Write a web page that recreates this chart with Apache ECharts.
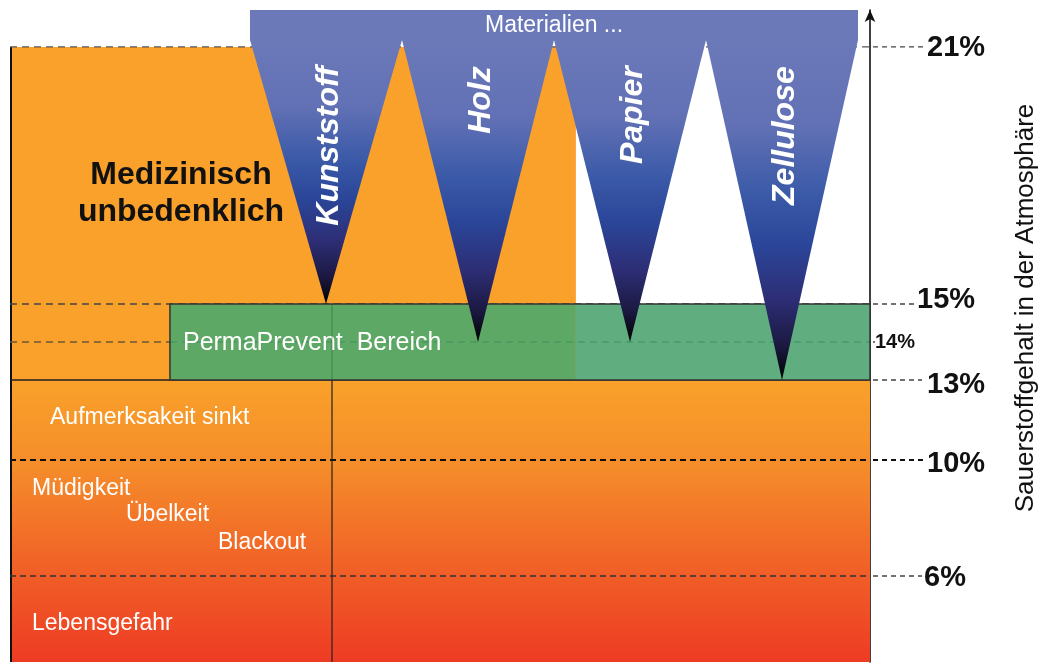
<!DOCTYPE html>
<html>
<head>
<meta charset="utf-8">
<script src="https://cdn.jsdelivr.net/npm/echarts@6.0.0/dist/echarts.min.js"></script>
<style>
html,body{margin:0;padding:0;background:#ffffff;}
#main{width:1043px;height:664px;}
</style>
</head>
<body>
<div id="main"></div>
<script>
// ---------------- data ----------------
const materials = ['Kunststoff', 'Holz', 'Papier', 'Zellulose'];
const materialLimits = [15, 14, 14, 13];          // O2 % at which the material stops burning
const ambientLevel = 21;                           // normal atmosphere
const tickValues = [21, 15, 14, 13, 10, 6];
const tickLabels = ['21%', '15%', '14%', '13%', '10%', '6%'];
const zoneFrom = [3, 13];
const zoneTo = [13, 21];
const permaRange = [13, 15];
const permaLevel = 14;
const permaLabel = 'PermaPrevent  Bereich';
const safeText = 'Medizinisch\nunbedenklich';
const symptomTexts = ['Aufmerksakeit sinkt', 'Müdigkeit', 'Übelkeit', 'Blackout', 'Lebensgefahr'];
const headerText = 'Materialien ...';
const axisTitle = 'Sauerstoffgehalt in der Atmosphäre';

// schematic (non-linear) vertical scale of the drawing: % O2 -> axis units
const scalePct  = [3, 6, 10, 13, 15, 21, 21.86];
const scaleUnit = [0, 13.19, 30.98, 43.25, 54.91, 94.33, 100];
function toUnit(p) {
  for (let i = 0; i < scalePct.length - 1; i++) {
    if (p <= scalePct[i + 1] || i === scalePct.length - 2) {
      const t = (p - scalePct[i]) / (scalePct[i + 1] - scalePct[i]);
      return scaleUnit[i] + t * (scaleUnit[i + 1] - scaleUnit[i]);
    }
  }
}
function Y(api, p) { return api.coord([0, toUnit(p)])[1]; }

// ---------------- layout / style ----------------
const FONT = 'Liberation Sans';
const layout = { safeRight: 0.658, bandLeft: 0.186 };
const safeLayout = { dx: 171, pct: 17.58 };
const symptomLayout = [
  { dx: 40, pct: 11.57 }, { dx: 22, pct: 9.0 }, { dx: 116, pct: 8.1 },
  { dx: 208, pct: 7.14 }, { dx: 22, pct: 4.33 }
];
const levelStyles = [
  { color: '#555', width: 1.3, dash: [7, 5], ext: 55, extColor: '#444', extWidth: 1.3 },
  { color: '#444', width: 1.3, dash: [7, 5], ext: 46, extColor: '#444', extWidth: 1.3 },
  { color: '#6b5a3a', width: 1.3, dash: [7, 5], ext: 5, extColor: '#444', extWidth: 1.3 },
  { color: '#222', width: 1.5, dash: null, ext: 52, extColor: '#444', extWidth: 1.3 },
  { color: '#111', width: 2.2, dash: [6, 4], ext: 56, extColor: '#111', extWidth: 2.2 },
  { color: '#333', width: 1.5, dash: [6, 4], ext: 52, extColor: '#444', extWidth: 1.3 }
];
const labelStyles = [
  { pad: 57, size: 29, dy: 1 },
  { pad: 47, size: 29, dy: -4 },
  { pad: 5, size: 20, dy: 0 },
  { pad: 57, size: 29, dy: 5 },
  { pad: 57, size: 29, dy: 4 },
  { pad: 54, size: 29, dy: 2 }
];
const rich = {};
labelStyles.forEach((s, i) => {
  rich['l' + i] = {
    fontSize: s.size, fontWeight: 'bold', color: '#111', fontFamily: FONT,
    padding: [s.dy > 0 ? s.dy * 2 : 0, 0, s.dy < 0 ? -s.dy * 2 : 0, s.pad]
  };
});

const dangerGradient = () => new echarts.graphic.LinearGradient(0, 0, 0, 1, [
  { offset: 0, color: '#f9a12a' },
  { offset: 0.3, color: '#f58d2a' },
  { offset: 0.7, color: '#f05d27' },
  { offset: 1, color: '#ee3b24' }
]);
const coneGradient = () => new echarts.graphic.LinearGradient(0, 0, 0, 1, [
  { offset: 0, color: '#6b79b9' },
  { offset: 0.25, color: '#6271b5' },
  { offset: 0.45, color: '#3b5aa8' },
  { offset: 0.6, color: '#2b4699' },
  { offset: 0.76, color: '#2d2e76' },
  { offset: 0.9, color: '#1b1840' },
  { offset: 1, color: '#000000' }
]);

const chart = echarts.init(document.getElementById('main'));

const option = {
  animation: false,
  backgroundColor: '#ffffff',
  grid: [
    { left: 10, right: 173, top: 10, bottom: 2, containLabel: false, outerBoundsMode: 'none' },
    { left: 250, right: 185, top: 10, bottom: 2, containLabel: false, outerBoundsMode: 'none' }
  ],
  xAxis: [
    { type: 'value', gridIndex: 0, min: 0, max: 1, show: false },
    { type: 'category', gridIndex: 1, data: materials, show: false, boundaryGap: true }
  ],
  yAxis: [
    {
      type: 'value', gridIndex: 0, position: 'right', min: 0, max: 100,
      axisLine: { show: true, onZero: false, lineStyle: { color: '#111', width: 1.6 }, symbol: ['none', 'arrow'], symbolSize: [8, 12] },
      axisTick: { show: false },
      splitLine: { show: false },
      axisLabel: {
        show: true, margin: 0,
        customValues: tickValues.map(toUnit),
        formatter: function (v) {
          for (let i = 0; i < tickValues.length; i++) {
            if (Math.abs(toUnit(tickValues[i]) - v) < 1e-6) return '{l' + i + '|' + tickLabels[i] + '}';
          }
          return '';
        },
        rich: rich
      },
      name: axisTitle,
      nameLocation: 'middle',
      nameRotate: 90,
      nameGap: 143,
      nameTextStyle: { fontSize: 26, fontFamily: FONT, color: '#111', padding: [0, 0, 0, 56] }
    },
    { type: 'value', gridIndex: 1, min: 0, max: 100, show: false }
  ],
  series: [
    // background zones
    {
      type: 'custom', xAxisIndex: 0, yAxisIndex: 0, z: 1, silent: true,
      data: zoneFrom.map((f, i) => [f, zoneTo[i]]),
      renderItem: function (params, api) {
        const cs = params.coordSys;
        const i = params.dataIndex;
        const yTop = Y(api, api.value(1));
        const yBot = i === 0 ? cs.y + cs.height : Y(api, api.value(0));
        const right = i === 0 ? cs.x + cs.width : cs.x + cs.width * layout.safeRight;
        return {
          type: 'group', children: [
            { type: 'rect', shape: { x: cs.x, y: yTop, width: right - cs.x, height: yBot - yTop },
              style: { fill: i === 0 ? dangerGradient() : '#f9a12b' } },
            { type: 'line', shape: { x1: cs.x + 1, y1: yTop, x2: cs.x + 1, y2: yBot },
              style: { stroke: '#111', lineWidth: 2 } }
          ]
        };
      }
    },
    // level lines
    {
      type: 'custom', xAxisIndex: 0, yAxisIndex: 0, z: 2, silent: true,
      data: tickValues.map(v => [0, v]),
      renderItem: function (params, api) {
        const cs = params.coordSys;
        const st = levelStyles[params.dataIndex];
        const y = Y(api, api.value(1));
        const xr = cs.x + cs.width;
        return {
          type: 'group', children: [
            { type: 'line', shape: { x1: cs.x, y1: y, x2: xr, y2: y },
              style: { stroke: st.color, lineWidth: st.width, lineDash: st.dash } },
            { type: 'line', shape: { x1: xr + 3, y1: y, x2: xr + st.ext, y2: y },
              style: { stroke: st.extColor, lineWidth: st.extWidth, lineDash: [5, 4] } }
          ]
        };
      }
    },
    // PermaPrevent band
    {
      type: 'custom', xAxisIndex: 0, yAxisIndex: 0, z: 3, silent: true,
      data: [[permaRange[0], permaRange[1]]],
      renderItem: function (params, api) {
        const cs = params.coordSys;
        const yTop = Y(api, api.value(1)), yBot = Y(api, api.value(0));
        const xL = cs.x + cs.width * layout.bandLeft;
        const xM = cs.x + cs.width * layout.safeRight;
        const xR = cs.x + cs.width;
        const yMid = Y(api, permaLevel);
        return {
          type: 'group', children: [
            { type: 'rect', shape: { x: xL, y: yTop, width: xM - xL, height: yBot - yTop }, style: { fill: '#5ea865' } },
            { type: 'rect', shape: { x: xM, y: yTop, width: xR - xM, height: yBot - yTop }, style: { fill: '#60ae80' } },
            { type: 'line', shape: { x1: xL, y1: yMid, x2: xR, y2: yMid },
              style: { stroke: '#3f8f5c', lineWidth: 1.2, lineDash: [7, 5] } },
            { type: 'rect', shape: { x: xL, y: yTop, width: xR - xL, height: yBot - yTop },
              style: { fill: null, stroke: '#333', lineWidth: 1.5 } },
            { type: 'text', x: xL + 13, y: yMid + 1,
              style: { text: permaLabel, fill: '#ffffff', fontSize: 25, fontFamily: FONT, align: 'left', verticalAlign: 'middle' } }
          ]
        };
      }
    },
    // guide line below the first material tip
    {
      type: 'custom', xAxisIndex: 1, yAxisIndex: 1, z: 3, silent: true,
      data: [[0, materialLimits[0]]],
      renderItem: function (params, api) {
        const cs = params.coordSys;
        const x = api.coord([api.value(0), 0])[0] + 6;
        const yTip = Y(api, api.value(1));
        const yBand = Y(api, permaRange[0]);
        return { type: 'group', children: [
          { type: 'line', shape: { x1: x, y1: yTip, x2: x, y2: yBand },
            style: { stroke: 'rgba(30,70,40,0.35)', lineWidth: 1.2 } },
          { type: 'line', shape: { x1: x, y1: yBand, x2: x, y2: cs.y + cs.height },
            style: { stroke: '#222', lineWidth: 1.2 } }
        ] };
      }
    },
    // zone texts
    {
      type: 'custom', xAxisIndex: 0, yAxisIndex: 0, z: 4, silent: true,
      data: [0].concat(symptomTexts.map((t, i) => i + 1)).map(i => [0, i]),
      renderItem: function (params, api) {
        const cs = params.coordSys;
        const i = params.dataIndex;
        if (i === 0) {
          return { type: 'text', x: cs.x + safeLayout.dx, y: Y(api, safeLayout.pct),
            style: { text: safeText, fill: '#111', fontSize: 32, fontWeight: 'bold', fontFamily: FONT,
              lineHeight: 37, align: 'center', verticalAlign: 'middle' } };
        }
        const L = symptomLayout[i - 1];
        return { type: 'text', x: cs.x + L.dx, y: Y(api, L.pct),
          style: { text: symptomTexts[i - 1], fill: '#ffffff', fontSize: 23, fontFamily: FONT,
            align: 'left', verticalAlign: 'middle' } };
      }
    },
    // materials header box
    {
      type: 'custom', xAxisIndex: 1, yAxisIndex: 1, z: 5, silent: true,
      data: [[0, materials.length - 1]],
      renderItem: function (params, api) {
        const cs = params.coordSys;
        const bw = api.size([1, 0])[0];
        const x0 = api.coord([api.value(0), 0])[0] - bw / 2;
        const x1 = api.coord([api.value(1), 0])[0] + bw / 2;
        const yb = Y(api, ambientLevel) - 7;
        return {
          type: 'group', children: [
            { type: 'rect', shape: { x: x0, y: cs.y, width: x1 - x0, height: yb - cs.y + 0.5 }, style: { fill: '#6b79b9' } },
            { type: 'text', x: (x0 + x1) / 2, y: (cs.y + yb) / 2 + 1,
              style: { text: headerText, fill: '#ffffff', fontSize: 23, fontFamily: FONT, align: 'center', verticalAlign: 'middle' } }
          ]
        };
      }
    },
    // material cones
    {
      type: 'custom', xAxisIndex: 1, yAxisIndex: 1, z: 6, silent: true,
      data: materials.map((m, i) => [i, materialLimits[i]]),
      renderItem: function (params, api) {
        const cx = api.coord([api.value(0), 0])[0];
        const bw = api.size([1, 0])[0];
        const yTop = Y(api, ambientLevel) - 7;
        const yTip = Y(api, api.value(1));
        return {
          type: 'group', children: [
            { type: 'polygon', shape: { points: [[cx - bw / 2, yTop], [cx + bw / 2, yTop], [cx, yTip]] },
              style: { fill: coneGradient() } },
            { type: 'text', x: cx + 3, y: Y(api, 20.55), rotation: Math.PI / 2,
              style: { text: materials[params.dataIndex], fill: '#ffffff', fontSize: 32, fontWeight: 'bold',
                fontStyle: 'italic', fontFamily: FONT, align: 'right', verticalAlign: 'middle' } }
          ]
        };
      }
    }
  ]
};

chart.setOption(option);
</script>
</body>
</html>
